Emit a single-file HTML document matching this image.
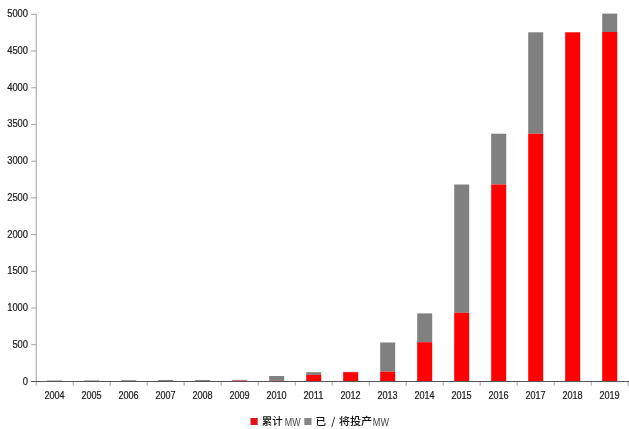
<!DOCTYPE html>
<html lang="zh"><head><meta charset="utf-8"><title>chart</title>
<style>html,body{margin:0;padding:0;background:#fff}body{width:629px;height:429px;overflow:hidden}</style></head>
<body>
<svg width="629" height="429" viewBox="0 0 629 429" style="display:block">
<rect width="629" height="429" fill="#fff"/>
<rect x="47.20" y="380.50" width="15" height="1.00" fill="#808080"/>
<rect x="84.20" y="380.40" width="15" height="1.10" fill="#808080"/>
<rect x="121.20" y="380.20" width="15" height="1.30" fill="#808080"/>
<rect x="158.20" y="380.00" width="15" height="1.50" fill="#808080"/>
<rect x="195.20" y="380.00" width="15" height="1.50" fill="#808080"/>
<rect x="232.20" y="380.30" width="15" height="1.20" fill="#c23a3a"/>
<rect x="269.20" y="376.00" width="15" height="4.80" fill="#808080"/>
<rect x="269.20" y="380.80" width="15" height="0.70" fill="#fe0000"/>
<rect x="306.20" y="372.20" width="15" height="2.70" fill="#808080"/>
<rect x="306.20" y="374.90" width="15" height="6.60" fill="#fe0000"/>
<rect x="343.20" y="371.80" width="15" height="0.40" fill="#808080"/>
<rect x="343.20" y="372.20" width="15" height="9.30" fill="#fe0000"/>
<rect x="380.20" y="342.50" width="15" height="29.20" fill="#808080"/>
<rect x="380.20" y="371.70" width="15" height="9.80" fill="#fe0000"/>
<rect x="417.20" y="313.40" width="15" height="28.80" fill="#808080"/>
<rect x="417.20" y="342.20" width="15" height="39.30" fill="#fe0000"/>
<rect x="454.20" y="184.50" width="15" height="128.30" fill="#808080"/>
<rect x="454.20" y="312.80" width="15" height="68.70" fill="#fe0000"/>
<rect x="491.20" y="133.70" width="15" height="50.80" fill="#808080"/>
<rect x="491.20" y="184.50" width="15" height="197.00" fill="#fe0000"/>
<rect x="528.20" y="32.30" width="15" height="101.40" fill="#808080"/>
<rect x="528.20" y="133.70" width="15" height="247.80" fill="#fe0000"/>
<rect x="565.20" y="32.30" width="15" height="349.20" fill="#fe0000"/>
<rect x="602.20" y="13.60" width="15" height="18.40" fill="#808080"/>
<rect x="602.20" y="32.00" width="15" height="349.50" fill="#fe0000"/>
<g stroke="#a0a0a0" stroke-width="1" fill="none">
<path d="M36.2 13.8V381.5"/>
<path d="M31.200000000000003 381.50H36.2"/>
<path d="M31.200000000000003 344.78H36.2"/>
<path d="M31.200000000000003 308.06H36.2"/>
<path d="M31.200000000000003 271.34H36.2"/>
<path d="M31.200000000000003 234.62H36.2"/>
<path d="M31.200000000000003 197.90H36.2"/>
<path d="M31.200000000000003 161.18H36.2"/>
<path d="M31.200000000000003 124.46H36.2"/>
<path d="M31.200000000000003 87.74H36.2"/>
<path d="M31.200000000000003 51.02H36.2"/>
<path d="M31.200000000000003 14.30H36.2"/>
<path d="M36.20 381.5V385.7"/>
<path d="M73.20 381.5V385.7"/>
<path d="M110.20 381.5V385.7"/>
<path d="M147.20 381.5V385.7"/>
<path d="M184.20 381.5V385.7"/>
<path d="M221.20 381.5V385.7"/>
<path d="M258.20 381.5V385.7"/>
<path d="M295.20 381.5V385.7"/>
<path d="M332.20 381.5V385.7"/>
<path d="M369.20 381.5V385.7"/>
<path d="M406.20 381.5V385.7"/>
<path d="M443.20 381.5V385.7"/>
<path d="M480.20 381.5V385.7"/>
<path d="M517.20 381.5V385.7"/>
<path d="M554.20 381.5V385.7"/>
<path d="M591.20 381.5V385.7"/>
<path d="M628.20 381.5V385.7"/>
</g>
<path d="M31.200000000000003 381.5H629" stroke="#555" stroke-width="1" fill="none"/>
<g font-family="'Liberation Sans', sans-serif" font-size="10" fill="#1c1c1c" stroke="#1c1c1c" stroke-width="0.22">
<text x="22.80" y="384.80" textLength="5.20" lengthAdjust="spacingAndGlyphs">0</text>
<text x="12.40" y="348.02" textLength="15.60" lengthAdjust="spacingAndGlyphs">500</text>
<text x="7.20" y="311.24" textLength="20.80" lengthAdjust="spacingAndGlyphs">1000</text>
<text x="7.20" y="274.46" textLength="20.80" lengthAdjust="spacingAndGlyphs">1500</text>
<text x="7.20" y="237.68" textLength="20.80" lengthAdjust="spacingAndGlyphs">2000</text>
<text x="7.20" y="200.90" textLength="20.80" lengthAdjust="spacingAndGlyphs">2500</text>
<text x="7.20" y="164.12" textLength="20.80" lengthAdjust="spacingAndGlyphs">3000</text>
<text x="7.20" y="127.34" textLength="20.80" lengthAdjust="spacingAndGlyphs">3500</text>
<text x="7.20" y="90.56" textLength="20.80" lengthAdjust="spacingAndGlyphs">4000</text>
<text x="7.20" y="53.78" textLength="20.80" lengthAdjust="spacingAndGlyphs">4500</text>
<text x="7.20" y="17.00" textLength="20.80" lengthAdjust="spacingAndGlyphs">5000</text>
<text x="44.40" y="399" textLength="20.2" lengthAdjust="spacingAndGlyphs">2004</text>
<text x="81.40" y="399" textLength="20.2" lengthAdjust="spacingAndGlyphs">2005</text>
<text x="118.40" y="399" textLength="20.2" lengthAdjust="spacingAndGlyphs">2006</text>
<text x="155.40" y="399" textLength="20.2" lengthAdjust="spacingAndGlyphs">2007</text>
<text x="192.40" y="399" textLength="20.2" lengthAdjust="spacingAndGlyphs">2008</text>
<text x="229.40" y="399" textLength="20.2" lengthAdjust="spacingAndGlyphs">2009</text>
<text x="266.40" y="399" textLength="20.2" lengthAdjust="spacingAndGlyphs">2010</text>
<text x="303.40" y="399" textLength="20.2" lengthAdjust="spacingAndGlyphs">2011</text>
<text x="340.40" y="399" textLength="20.2" lengthAdjust="spacingAndGlyphs">2012</text>
<text x="377.40" y="399" textLength="20.2" lengthAdjust="spacingAndGlyphs">2013</text>
<text x="414.40" y="399" textLength="20.2" lengthAdjust="spacingAndGlyphs">2014</text>
<text x="451.40" y="399" textLength="20.2" lengthAdjust="spacingAndGlyphs">2015</text>
<text x="488.40" y="399" textLength="20.2" lengthAdjust="spacingAndGlyphs">2016</text>
<text x="525.40" y="399" textLength="20.2" lengthAdjust="spacingAndGlyphs">2017</text>
<text x="562.40" y="399" textLength="20.2" lengthAdjust="spacingAndGlyphs">2018</text>
<text x="599.40" y="399" textLength="20.2" lengthAdjust="spacingAndGlyphs">2019</text>
</g>
<rect x="250.5" y="418" width="7.2" height="7" fill="#e01414"/>
<rect x="304.3" y="418" width="7.2" height="7" fill="#858585"/>
<g font-family="'Liberation Sans', 'Noto Sans CJK SC', sans-serif" font-size="10.6" font-weight="500" fill="#111">
<text x="261.8" y="425.3" textLength="21" lengthAdjust="spacingAndGlyphs">累计</text>
<text x="284.8" y="425.6" font-size="10" font-weight="400" fill="#444" textLength="15.8" lengthAdjust="spacingAndGlyphs">MW</text>
<text x="315.4" y="425.3">已</text>
<text x="331.3" y="425" font-family="'Noto Sans CJK SC', sans-serif" font-size="10.4">/</text>
<text x="338.7" y="425.3" textLength="33.6" lengthAdjust="spacingAndGlyphs">将投产</text>
<text x="372.8" y="425.6" font-size="10" font-weight="400" fill="#444" textLength="16.2" lengthAdjust="spacingAndGlyphs">MW</text>
</g>
</svg>
</body></html>
